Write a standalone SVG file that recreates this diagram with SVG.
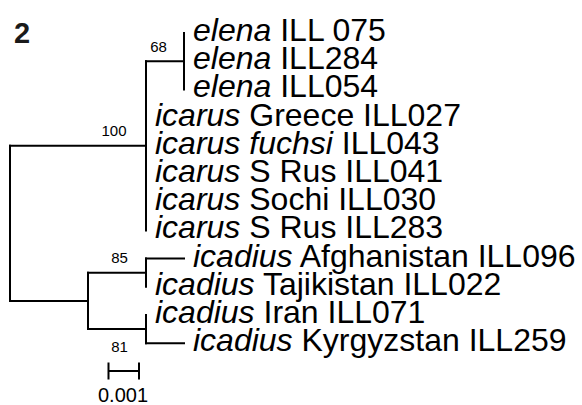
<svg xmlns="http://www.w3.org/2000/svg" width="582" height="405" viewBox="0 0 582 405">
<style>
.br{stroke:#000;stroke-width:2;fill:none;stroke-linecap:square}
.tx{font-family:"Liberation Sans",Arial,sans-serif;font-size:32px;fill:#000}
.it{font-style:italic}
.bs{font-family:"Liberation Sans",Arial,sans-serif;font-size:15px;fill:#000;text-anchor:middle}
.sc{font-family:"Liberation Sans",Arial,sans-serif;font-size:20px;fill:#000;text-anchor:middle}
</style>
<rect width="582" height="405" fill="#fff"/>
<text id="panel" x="14" y="43" style="font-family:'Liberation Sans',Arial,sans-serif;font-size:29px;font-weight:bold;fill:#1a1a1a">2</text>
<g id="connectors">
<path class="br" d="M10,145.8 V300.9"/>
<path class="br" d="M10,145.8 H146"/>
<path class="br" d="M146,61.2 V230.4"/>
<path class="br" d="M146,61.2 H184"/>
<path class="br" d="M184,33 V89.4"/>
<path class="br" d="M10,300.9 H88"/>
<path class="br" d="M88,272.7 V329.1"/>
<path class="br" d="M88,272.7 H146"/>
<path class="br" d="M146,258.6 V286.8"/>
<path class="br" d="M146,258.6 H184"/>
<path class="br" d="M88,329.1 H146"/>
<path class="br" d="M146,315 V343.2"/>
<path class="br" d="M146,343.2 H184"/>
</g>
<g id="support">
<text class="bs" x="158.5" y="52">68</text>
<text class="bs" x="114" y="136">100</text>
<text class="bs" x="119.5" y="263">85</text>
<text class="bs" x="119.5" y="352">81</text>
</g>
<g id="leaves">
<text id="t1" class="tx" x="193" y="41"><tspan class="it">elena</tspan> ILL 075</text>
<text id="t2" class="tx" x="193" y="69.2"><tspan class="it">elena</tspan> ILL284</text>
<text id="t3" class="tx" x="193" y="97.4"><tspan class="it">elena</tspan> ILL054</text>
<text id="t4" class="tx" x="155" y="125.6"><tspan class="it">icarus</tspan> Greece ILL027</text>
<text id="t5" class="tx" x="155" y="153.8"><tspan class="it">icarus fuchsi</tspan> ILL043</text>
<text id="t6" class="tx" x="155" y="182"><tspan class="it">icarus</tspan> S Rus ILL041</text>
<text id="t7" class="tx" x="155" y="210.2"><tspan class="it">icarus</tspan> Sochi ILL030</text>
<text id="t8" class="tx" x="155" y="238.4"><tspan class="it">icarus</tspan> S Rus ILL283</text>
<text id="t9" class="tx" x="193" y="266.6"><tspan class="it">icadius</tspan> Afghanistan ILL096</text>
<text id="t10" class="tx" x="155" y="294.8"><tspan class="it">icadius</tspan> Tajikistan ILL022</text>
<text id="t11" class="tx" x="155" y="323"><tspan class="it">icadius</tspan> Iran ILL071</text>
<text id="t12" class="tx" x="193" y="351.2"><tspan class="it">icadius</tspan> Kyrgyzstan ILL259</text>
</g>
<g id="scalebar">
<path class="br" d="M108.5,371 H139 M108.5,363.5 V378.5 M139,363.5 V378.5"/>
<text class="sc" x="123" y="402">0.001</text>
</g>
</svg>
